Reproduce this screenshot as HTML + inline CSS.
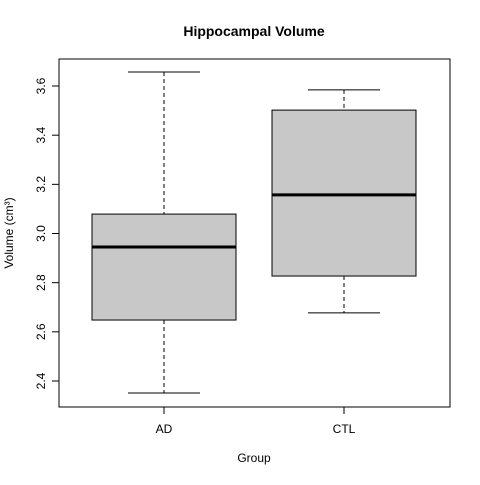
<!DOCTYPE html>
<html><head><meta charset="utf-8"><style>
body{margin:0;background:#fff}
svg text{font-family:"Liberation Sans",Arial,sans-serif;fill:#000}
</style></head><body>
<svg id="chart" width="480" height="480">
<text x="254" y="36" text-anchor="middle" font-size="14" font-weight="bold">Hippocampal Volume</text>
<text x="254" y="462" text-anchor="middle" font-size="12">Group</text>
<text transform="translate(13,233) rotate(-90)" text-anchor="middle" font-size="12">Volume (cm³)</text>
<rect x="59" y="59" width="391" height="348" fill="none" stroke="#000"/>
<g id="marks"></g>
</svg>
<script>
const categories=["AD","CTL"];
const whiskerLow=[2.351,2.677];
const q1=[2.648,2.827];
const medians=[2.945,3.157];
const q3=[3.079,3.502];
const whiskerHigh=[3.657,3.584];
const yTicks=[2.4,2.6,2.8,3.0,3.2,3.4,3.6];
const yTickLabels=["2.4","2.6","2.8","3.0","3.2","3.4","3.6"];
const NS="http://www.w3.org/2000/svg";
const g=document.getElementById("marks");
function y(v){return 381-(v-2.4)*245.83;}
function x(i){return 164+i*180;}
function mk(t,a,name){const e=document.createElementNS(NS,t);for(const k in a)e.setAttribute(k,a[k]);


g.appendChild(e);return e;}
yTicks.forEach((v,i)=>{
 mk("line",{x1:52,x2:59,y1:y(v),y2:y(v),stroke:"#000"},"y-tick");
 const t=mk("text",{transform:`translate(45,${y(v)}) rotate(-90)`,"text-anchor":"middle","font-size":"12"},"y-tick-label");
 t.textContent=yTickLabels[i];
});
mk("line",{x1:59,x2:59,y1:y(yTicks[0]),y2:y(yTicks[yTicks.length-1]),stroke:"#000"},"y-axis-line");
categories.forEach((c,i)=>{
 const cx=x(i),hw=72;
 mk("line",{x1:cx,x2:cx,y1:y(whiskerHigh[i]),y2:y(q3[i]),stroke:"#000","stroke-dasharray":"4,3"},"upper-whisker-"+c);
 mk("line",{x1:cx,x2:cx,y1:y(q1[i]),y2:y(whiskerLow[i]),stroke:"#000","stroke-dasharray":"4,3"},"lower-whisker-"+c);
 mk("line",{x1:cx-36,x2:cx+36,y1:y(whiskerHigh[i]),y2:y(whiskerHigh[i]),stroke:"#000"},"upper-cap-"+c);
 mk("line",{x1:cx-36,x2:cx+36,y1:y(whiskerLow[i]),y2:y(whiskerLow[i]),stroke:"#000"},"lower-cap-"+c);
 mk("rect",{x:cx-hw,y:y(q3[i]),width:hw*2,height:y(q1[i])-y(q3[i]),fill:"#c8c8c8",stroke:"#000"},"box-"+c);
 mk("line",{x1:cx-hw,x2:cx+hw,y1:y(medians[i]),y2:y(medians[i]),stroke:"#000","stroke-width":3},"median-"+c);
 mk("line",{x1:cx,x2:cx,y1:407,y2:414,stroke:"#000"},"x-tick");
 const t=mk("text",{x:cx,y:433,"text-anchor":"middle","font-size":"12"},"x-tick-label");
 t.textContent=c;
});
mk("line",{x1:x(0),x2:x(categories.length-1),y1:407,y2:407,stroke:"#000"},"x-axis-line");
</script>
</body></html>
